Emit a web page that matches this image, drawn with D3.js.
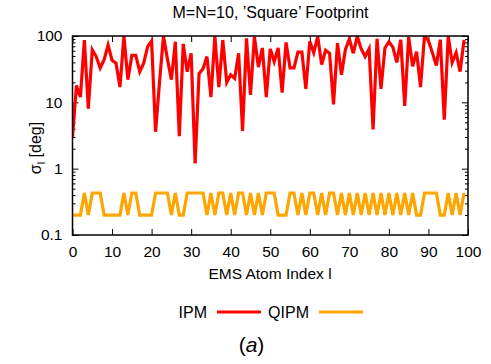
<!DOCTYPE html>
<html>
<head>
<meta charset="utf-8">
<script src="https://cdn.jsdelivr.net/npm/d3@7"></script>
<style>
  html, body { margin: 0; padding: 0; background: #fff; }
  svg { display: block; }
  text { font-family: "Liberation Sans", Arial, sans-serif; fill: #000; }
</style>
</head>
<body>
<svg id="chart" width="491" height="364"></svg>
<script>
// ---- Data ----
const title = "M=N=10, \u2019Square\u2019 Footprint";
const xLabel = "EMS Atom Index l";
const seriesNames = ["IPM", "QIPM"];
const seriesColors = ["#ff0000", "#ffa500"];
const xTicks = [0, 10, 20, 30, 40, 50, 60, 70, 80, 90, 100];
const yTicks = [0.1, 1, 10, 100];
const yTickLabels = ["0.1", "1", "10", "100"];

const ipm = [3.0, 18, 12, 87, 8, 62, 49, 33, 44, 73,
             43, 39, 17, 100, 22, 51, 51, 29, 39, 69,
             84, 3.6, 20, 100, 45, 22, 82, 3.1, 76, 29,
             55, 1.2, 27, 32, 49, 12, 99, 17, 87, 20,
             26, 23, 55, 3.7, 92, 13, 98, 34, 66, 12,
             64, 41, 66, 14, 80, 33, 33, 57, 57, 16,
             83, 56, 98, 37, 61, 55, 9.3, 78, 26, 62,
             90, 55, 99, 64, 49, 64, 3.9, 91, 16, 66,
             82, 68, 40, 88, 8.8, 97, 35, 58, 17, 100,
             85, 56, 36, 88, 5.5, 99, 40, 56, 29, 87];

const qipm = [0.2, 0.2, 0.2, 0.43, 0.2, 0.43, 0.43, 0.43, 0.2, 0.2,
              0.2, 0.2, 0.2, 0.43, 0.2, 0.43, 0.43, 0.2, 0.2, 0.2,
              0.2, 0.43, 0.43, 0.43, 0.43, 0.2, 0.43, 0.2, 0.2, 0.43,
              0.43, 0.43, 0.43, 0.43, 0.2, 0.43, 0.2, 0.43, 0.43, 0.2,
              0.43, 0.2, 0.43, 0.43, 0.2, 0.43, 0.2, 0.43, 0.2, 0.43,
              0.43, 0.43, 0.2, 0.2, 0.2, 0.43, 0.43, 0.2, 0.43, 0.2,
              0.43, 0.43, 0.2, 0.43, 0.2, 0.43, 0.43, 0.2, 0.43, 0.2,
              0.43, 0.2, 0.43, 0.2, 0.43, 0.2, 0.43, 0.2, 0.43, 0.2,
              0.43, 0.2, 0.43, 0.2, 0.43, 0.2, 0.43, 0.2, 0.2, 0.43,
              0.43, 0.43, 0.43, 0.2, 0.2, 0.43, 0.2, 0.43, 0.2, 0.43];

// ---- Layout ----
const svg = d3.select("#chart");
const L = 72.5, R = 468, T = 36, B = 235;
const FS = 16;

const x = d3.scaleLinear().domain([0, 100]).range([L, R]);
const y = d3.scaleLog().domain([0.1, 100]).range([B, T]);

svg.append("defs").append("clipPath").attr("id", "clip")
  .append("rect").attr("x", L).attr("y", T).attr("width", R - L).attr("height", B - T);

const minorVals = [];
[0.1, 1, 10].forEach(d => { for (let k = 2; k <= 9; k++) minorVals.push(d * k); });

const axisG = svg.append("g");
axisG.append("g").attr("transform", `translate(0,${B})`)
  .call(d3.axisBottom(x).tickValues(xTicks).tickSize(-6).tickPadding(11).tickFormat(d3.format("d")))
  .call(g => g.select(".domain").remove());
axisG.append("g").attr("transform", `translate(0,${T})`)
  .call(d3.axisTop(x).tickValues(xTicks).tickSize(-6).tickFormat(""))
  .call(g => g.select(".domain").remove());
axisG.append("g").attr("transform", `translate(${L},0)`)
  .call(d3.axisLeft(y).tickValues(yTicks).tickSize(-6).tickPadding(10).tickFormat((d, i) => yTickLabels[i]))
  .call(g => g.select(".domain").remove());
axisG.append("g").attr("transform", `translate(${L},0)`)
  .call(d3.axisLeft(y).tickValues(minorVals).tickSize(-3).tickFormat(""))
  .call(g => g.select(".domain").remove());
axisG.append("g").attr("transform", `translate(${R},0)`)
  .call(d3.axisRight(y).tickValues(yTicks).tickSize(-6).tickFormat(""))
  .call(g => g.select(".domain").remove());
axisG.append("g").attr("transform", `translate(${R},0)`)
  .call(d3.axisRight(y).tickValues(minorVals).tickSize(-3).tickFormat(""))
  .call(g => g.select(".domain").remove());

axisG.selectAll(".tick line").attr("stroke", "#000").attr("stroke-width", 1);
axisG.selectAll(".tick text").attr("font-size", 15.5).attr("font-family", "Liberation Sans, Arial, sans-serif").attr("fill", "#000");

const line = d3.line().x((d, i) => x(i)).y(d => y(d));
const plot = svg.append("g").attr("clip-path", "url(#clip)");
plot.append("path").datum(qipm).attr("d", line)
  .attr("fill", "none").attr("stroke", seriesColors[1]).attr("stroke-width", 3.2).attr("stroke-linejoin", "miter");
plot.append("path").datum(ipm).attr("d", line)
  .attr("fill", "none").attr("stroke", seriesColors[0]).attr("stroke-width", 3.2).attr("stroke-linejoin", "miter");

svg.append("rect").attr("x", L).attr("y", T).attr("width", R - L).attr("height", B - T)
  .attr("fill", "none").attr("stroke", "#000").attr("stroke-width", 1.5);

svg.append("text").attr("x", 270.5).attr("y", 17.5).attr("text-anchor", "middle")
  .attr("font-size", FS).text(title);

svg.append("text").attr("x", 270).attr("y", 279).attr("text-anchor", "middle")
  .attr("font-size", 15.5).text(xLabel);

const yl = svg.append("text").attr("transform", `translate(41,148) rotate(-90)`)
  .attr("text-anchor", "middle").attr("font-size", FS);
yl.append("tspan").text("\u03c3");
yl.append("tspan").attr("font-size", 11).attr("dy", 4).text("l");
yl.append("tspan").attr("dy", -4).text(" [deg]");

const leg = svg.append("g");
const legItems = [
  { name: seriesNames[0], color: seriesColors[0], tx: 207, lx1: 217, lx2: 261 },
  { name: seriesNames[1], color: seriesColors[1], tx: 309, lx1: 319, lx2: 363 }
];
legItems.forEach(d => {
  leg.append("text").attr("x", d.tx).attr("y", 318).attr("text-anchor", "end")
    .attr("font-size", FS).text(d.name);
  leg.append("line").attr("x1", d.lx1).attr("x2", d.lx2).attr("y1", 312).attr("y2", 312)
    .attr("stroke", d.color).attr("stroke-width", 3.2);
});

const cap = svg.append("text").attr("x", 251.5).attr("y", 352).attr("text-anchor", "middle")
  .attr("font-size", 21).attr("font-family", "Liberation Serif, Times New Roman, serif");
cap.append("tspan").text("(");
cap.append("tspan").attr("font-style", "italic").text("a");
cap.append("tspan").text(")");
</script>
</body>
</html>
